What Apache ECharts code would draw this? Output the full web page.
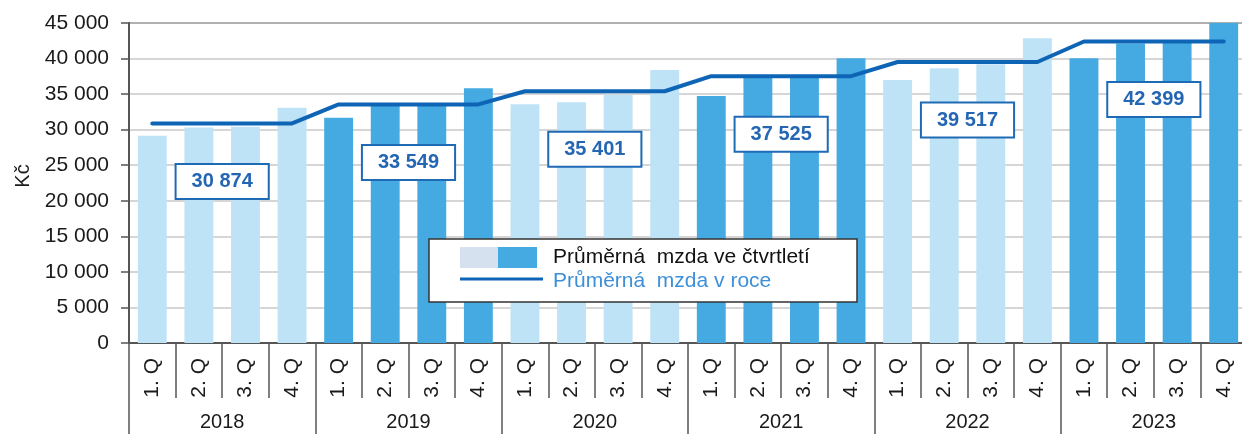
<!DOCTYPE html>
<html>
<head>
<meta charset="utf-8">
<script src="https://cdn.jsdelivr.net/npm/echarts@6/dist/echarts.min.js"></script>
<style>
html,body{margin:0;padding:0;background:#fff;overflow:hidden;width:1242px;height:434px;}
#chart{width:1250px;height:434px;}
</style>
</head>
<body>
<div id="chart"></div>
<script>
// ---- data ----
const years = ['2018', '2019', '2020', '2021', '2022', '2023'];
const quarters = ['1. Q', '2. Q', '3. Q', '4. Q'];
const quarterlyWage = [
  29150, 30300, 30400, 33090,
  31680, 33400, 33400, 35810,
  33560, 33840, 34900, 38390,
  34730, 37300, 37300, 40030,
  36980, 38620, 39200, 42840,
  40030, 42100, 42200, 46000
];
const annualWage = [30874, 33549, 35401, 37525, 39517, 42399];
const yTicks = [0, 5000, 10000, 15000, 20000, 25000, 30000, 35000, 40000, 45000];

// ---- derived ----
const quarterCats = [];
years.forEach(y => quarters.forEach(q => quarterCats.push(y + ' ' + q)));
const LIGHT = '#BEE2F6', DARK = '#45AAE2', LINE = '#0E65B5';
const barData = quarterlyWage.map((v, i) => ({
  value: v,
  itemStyle: { color: Math.floor(i / 4) % 2 === 0 ? LIGHT : DARK }
}));
const lineData = quarterlyWage.map((v, i) => annualWage[Math.floor(i / 4)]);
const fmt = v => String(v).replace(/\B(?=(\d{3})+(?!\d))/g, ' ');

const chart = echarts.init(document.getElementById('chart'), null, { renderer: 'canvas' });
const FONT = 'Liberation Sans, Arial, sans-serif';
const FS = 21;
chart.setOption({
  animation: false,
  backgroundColor: '#fff',
  grid: { left: 129, top: 23, bottom: 91, right: 3, show: true, borderColor: '#6a6a6a', borderWidth: 2, backgroundColor: 'transparent' },
  xAxis: [
    {
      type: 'category', data: quarterCats, position: 'bottom',
      axisLine: { show: true, lineStyle: { color: '#555', width: 2 } },
      axisTick: { show: true, interval: 0, length: 55, lineStyle: { color: '#555', width: 1.5 } },
      axisLabel: {
        interval: 0, rotate: 90, margin: 15,
        formatter: v => v.split(' ').slice(1).join(' '),
        fontFamily: FONT, fontSize: FS, color: '#1a1a1a'
      }
    },
    {
      type: 'category', data: years, position: 'bottom',
      axisLine: { show: false },
      axisTick: { show: true, interval: 0, length: 100, lineStyle: { color: '#555', width: 1.5 } },
      axisLabel: { interval: 0, margin: 69, fontFamily: FONT, fontSize: 20, color: '#1a1a1a' }
    }
  ],
  yAxis: {
    type: 'value', min: 0, max: 45000, interval: 5000,
    name: 'Kč', nameLocation: 'middle', nameGap: 94,
    nameTextStyle: { fontFamily: FONT, fontSize: 20, color: '#1a1a1a', padding: [0, 0, 0, 14] },
    axisLine: { show: true, lineStyle: { color: '#555', width: 2 } },
    axisTick: { show: true, length: 8, lineStyle: { color: '#555', width: 1.5 } },
    axisLabel: {
      margin: 20, fontFamily: FONT, fontSize: FS, color: '#1a1a1a',
      formatter: v => yTicks.includes(v) ? fmt(v) : ''
    },
    splitLine: { show: true, lineStyle: { color: '#c8c8c8', width: 1.5 } }
  },
  series: [
    {
      name: 'Průměrná mzda ve čtvrtletí', type: 'bar', xAxisIndex: 0,
      data: barData, barWidth: '62%', z: 2
    },
    {
      name: 'Průměrná mzda v roce', type: 'line', xAxisIndex: 0,
      data: lineData, symbol: 'none', z: 3,
      lineStyle: { color: LINE, width: 4, cap: 'round', join: 'round' }
    },
    {
      name: 'labels', type: 'scatter', xAxisIndex: 1,
      data: annualWage, symbolSize: 1, z: 4,
      itemStyle: { color: 'rgba(0,0,0,0)', opacity: 1 },
      emphasis: { disabled: true },
      label: {
        show: true, position: 'inside', offset: [0, 58],
        formatter: p => fmt(p.value),
        fontFamily: FONT, fontSize: 20, fontWeight: 'bold', color: '#2466B4',
        backgroundColor: '#fff', borderColor: '#1E6AB5', borderWidth: 2,
        padding: [7, 15, 6, 15]
      }
    }
  ],
  graphic: [
    { type: 'rect', z: 100, shape: { x: 429, y: 239, width: 428, height: 63 },
      style: { fill: '#fff', stroke: '#333', lineWidth: 1.5 } },
    { type: 'rect', z: 101, shape: { x: 460, y: 247, width: 38, height: 21 },
      style: { fill: '#D6E1F0' } },
    { type: 'rect', z: 101, shape: { x: 498, y: 247, width: 39, height: 21 },
      style: { fill: DARK } },
    { type: 'line', z: 101, shape: { x1: 460, y1: 279, x2: 543, y2: 279 },
      style: { stroke: LINE, lineWidth: 3 } },
    { type: 'text', z: 101, x: 553, y: 257,
      style: { text: 'Průměrná  mzda ve čtvrtletí', fill: '#111', font: FS + 'px ' + FONT, textVerticalAlign: 'middle' } },
    { type: 'text', z: 101, x: 553, y: 281,
      style: { text: 'Průměrná  mzda v roce', fill: '#3C8FD8', font: FS + 'px ' + FONT, textVerticalAlign: 'middle' } }
  ]
});
</script>
</body>
</html>
